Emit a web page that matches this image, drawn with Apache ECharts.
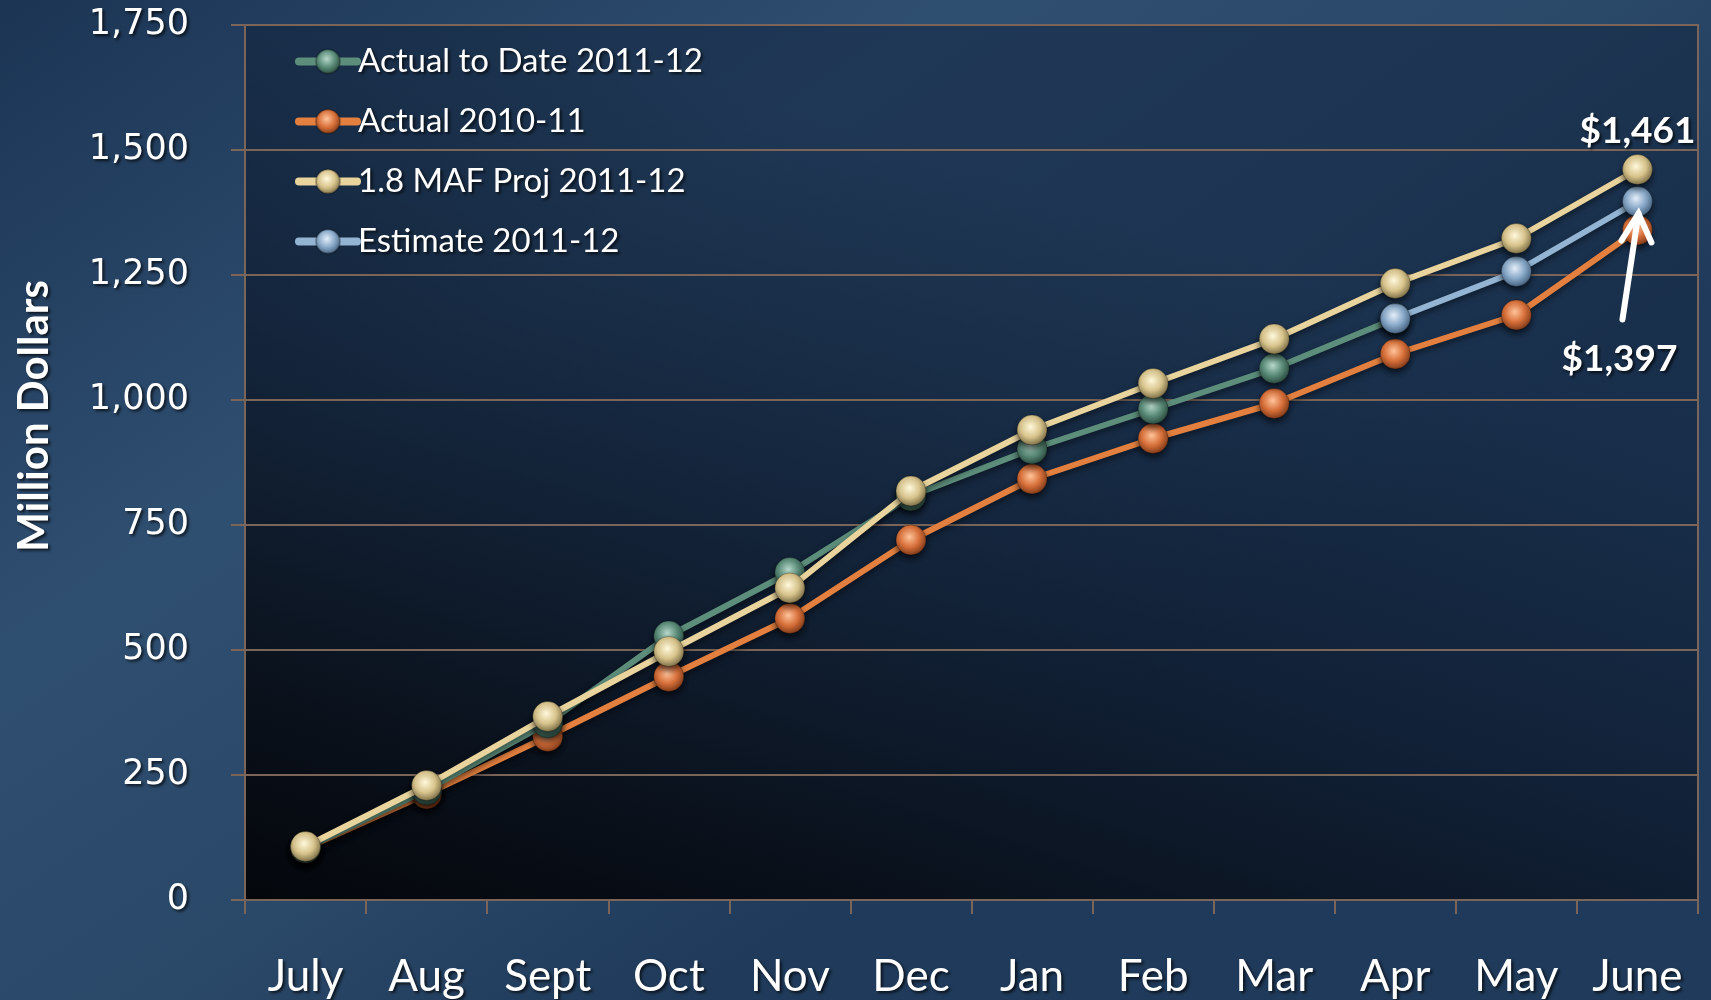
<!DOCTYPE html>
<html lang="en">
<head>
  <meta charset="UTF-8">
  <title>Million Dollars</title>
  <style>
    html, body { margin: 0; padding: 0; background: #1d3757; }
    #chart { width: 1711px; height: 1000px; }
  </style>
  <script src="https://cdn.jsdelivr.net/npm/echarts@6/dist/echarts.min.js"></script>
</head>
<body>
<div id="chart"></div>
<script>
  // months of the fiscal year
  const months = ['July', 'Aug', 'Sept', 'Oct', 'Nov', 'Dec', 'Jan', 'Feb', 'Mar', 'Apr', 'May', 'June']
  // cumulative values, million dollars
  const actualToDate = [104, 220, 354, 528, 655, 808, 902, 982, 1063, 1163, null, null]
  const actual1011 = [103, 212, 327, 447, 563, 720, 842, 923, 993, 1092, 1170, 1340]
  const proj = [107, 229, 367, 497, 624, 818, 940, 1033, 1122, 1233, 1323, 1461]
  const estimate = [null, null, null, null, null, null, null, null, null, 1163, 1257, 1397]
  const yTicks = [0, 250, 500, 750, 1000, 1250, 1500, 1750]

  // ball-like marker fill
  function ball(light, mid, dark) {
    return {
      type: 'radial', x: 0.45, y: 0.4, r: 0.6,
      colorStops: [
        { offset: 0, color: light },
        { offset: 0.55, color: mid },
        { offset: 1, color: dark }
      ]
    }
  }

  function lineSeries(name, data, lineColor, fill, z) {
    return {
      name: name,
      type: 'line',
      data: data,
      z: z,
      symbol: 'circle',
      symbolSize: 30,
      connectNulls: false,
      lineStyle: {
        color: lineColor, width: 6,
        shadowColor: 'rgba(0,0,0,0.5)', shadowBlur: 6, shadowOffsetY: 3
      },
      itemStyle: {
        color: fill,
        borderColor: 'rgba(0,0,0,0.25)', borderWidth: 1,
        shadowColor: 'rgba(0,0,0,0.6)', shadowBlur: 6, shadowOffsetY: 4
      },
      emphasis: { disabled: true }
    }
  }

  const chart = echarts.init(document.getElementById('chart'))

  const gridColor = '#7b6458'
  const textShadow = { textShadowColor: 'rgba(0,0,0,0.7)', textShadowBlur: 3, textShadowOffsetX: 2, textShadowOffsetY: 2 }

  let projSeries = lineSeries('1.8 MAF Proj 2011-12', proj, '#e9d49d', ball('#fff8dc', '#d8c48c', '#7d6f47'), 5)
  projSeries.data = proj.map((v, i) => i === proj.length - 1 ? {
    value: v,
    label: {
      show: true, position: 'top', distance: 4,
      formatter: '$1,461',
      color: '#fff', fontFamily: 'Lato', fontWeight: 'bold', fontSize: 37,
      ...textShadow
    }
  } : v)

  const option = {
    animation: false,
    backgroundColor: {
      type: 'linear', x: 0, y: 0, x2: 0.4, y2: 1,
      colorStops: [
        { offset: 0, color: '#1b3454' },
        { offset: 0.45, color: '#2f4f71' },
        { offset: 0.75, color: '#2a4868' },
        { offset: 1, color: '#1f3a5a' }
      ]
    },
    grid: {
      left: 245, right: 13, top: 25, bottom: 100,
      show: true,
      borderColor: gridColor, borderWidth: 2,
      backgroundColor: {
        type: 'linear', x: 0.2, y: 0, x2: 0, y2: 1,
        colorStops: [
          { offset: 0, color: 'rgba(20,40,66,0.6)' },
          { offset: 0.4, color: 'rgba(14,28,48,0.8)' },
          { offset: 0.8, color: 'rgba(7,12,20,0.94)' },
          { offset: 1, color: 'rgba(3,5,9,0.98)' }
        ]
      }
    },
    legend: {
      orient: 'vertical',
      left: 290, top: 40,
      itemWidth: 58, itemHeight: 30,
      itemGap: 27,
      lineStyle: { width: 8, cap: 'round' },
      data: ['Actual to Date 2011-12', 'Actual 2010-11', '1.8 MAF Proj 2011-12', 'Estimate 2011-12'],
      textStyle: { color: '#fff', fontFamily: 'Lato', fontSize: 33, padding: [0, 0, 0, -4], ...textShadow }
    },
    xAxis: {
      type: 'category',
      data: months,
      boundaryGap: true,
      axisLine: { lineStyle: { color: gridColor, width: 2 } },
      axisTick: { show: true, length: 14, lineStyle: { color: gridColor, width: 2 } },
      axisLabel: { color: '#fff', fontFamily: 'Lato', fontSize: 44, margin: 55, ...textShadow },
      splitLine: { show: false }
    },
    yAxis: {
      type: 'value',
      min: yTicks[0], max: yTicks[yTicks.length - 1], interval: 250,
      axisLine: { show: true, lineStyle: { color: gridColor, width: 2 } },
      axisTick: { show: true, length: 14, lineStyle: { color: gridColor, width: 2 } },
      axisLabel: {
        color: '#fff', fontFamily: 'DejaVu Sans', fontSize: 35, margin: 56,
        formatter: v => v.toLocaleString('en-US'),
        ...textShadow
      },
      splitLine: { lineStyle: { color: gridColor, width: 2 } }
    },
    series: [
      lineSeries('Actual to Date 2011-12', actualToDate, '#5d8e7b', ball('#b6d8ca', '#5a8b78', '#2a4a3f'), 3),
      lineSeries('Actual 2010-11', actual1011, '#e3803f', ball('#ffc39a', '#d8703a', '#7f3a19'), 2),
      projSeries,
      lineSeries('Estimate 2011-12', estimate, '#93b4d3', ball('#e3eef9', '#88a8c8', '#45627f'), 4)
    ]
  }
  chart.setOption(option)

  // arrow and label pointing at the June estimate
  const p = chart.convertToPixel({ seriesIndex: 3 }, [11, estimate[11]])
  const tip = [p[0] + 1, p[1] + 12]
  const tail = [p[0] - 15, p[1] + 118]
  chart.setOption({
    graphic: [
      {
        type: 'text', z: 100,
        x: 34, y: 416, rotation: Math.PI / 2,
        style: {
          text: 'Million Dollars', fill: '#fff',
          font: 'bold 42px Lato',
          align: 'center', verticalAlign: 'middle',
          textShadowColor: 'rgba(0,0,0,0.7)', textShadowBlur: 3, textShadowOffsetX: 2, textShadowOffsetY: 2
        }
      },
      {
        type: 'polyline', z: 100,
        shape: { points: [tail, tip] },
        style: { stroke: '#fff', lineWidth: 6, lineCap: 'round', fill: null }
      },
      {
        type: 'polyline', z: 100,
        shape: { points: [[tip[0] - 17, tip[1] + 27], tip, [tip[0] + 13, tip[1] + 29]] },
        style: { stroke: '#fff', lineWidth: 6, lineCap: 'round', lineJoin: 'miter', fill: null }
      },
      {
        type: 'text', z: 100,
        x: tail[0] - 3, y: tail[1] + 40,
        style: {
          text: '$1,397', fill: '#fff',
          font: 'bold 37px Lato',
          align: 'center', verticalAlign: 'middle',
          textShadowColor: 'rgba(0,0,0,0.7)', textShadowBlur: 3, textShadowOffsetX: 2, textShadowOffsetY: 2
        }
      }
    ]
  })
</script>
</body>
</html>
